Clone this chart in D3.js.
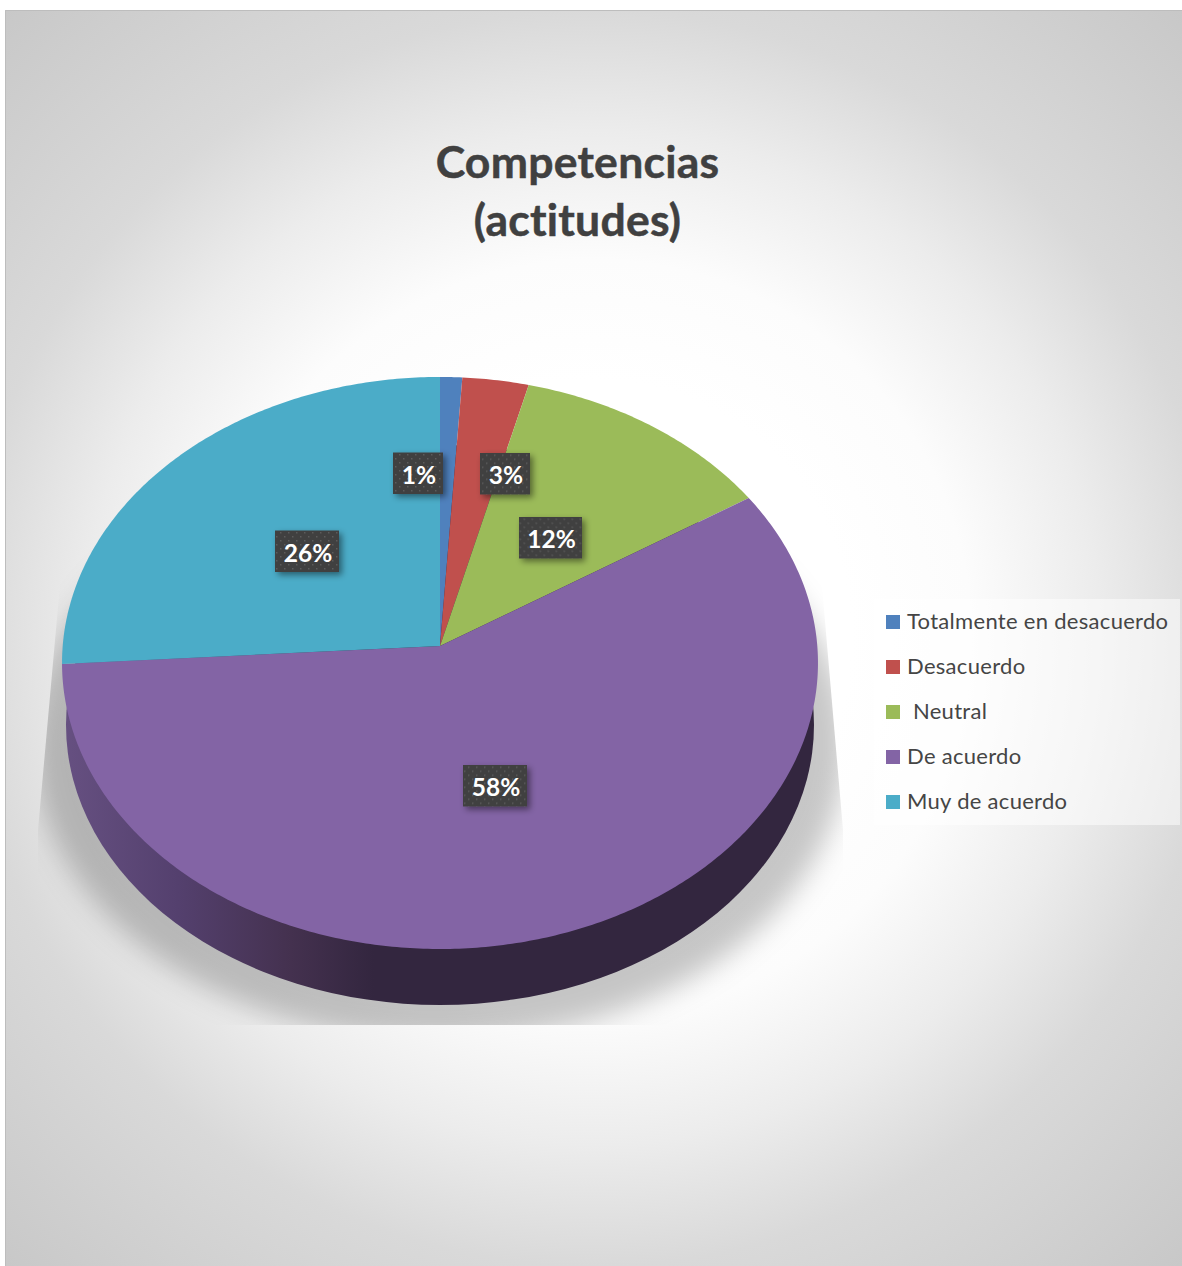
<!DOCTYPE html>
<html lang="es">
<head>
<meta charset="utf-8">
<title>Competencias (actitudes)</title>
<script src="https://cdnjs.cloudflare.com/ajax/libs/d3/7.8.5/d3.min.js"></script>
<style>
  html, body { margin: 0; padding: 0; background: #fff; }
  svg { display: block; font-family: Lato, "Open Sans", sans-serif; font-variant-ligatures: none; }
</style>
</head>
<body>
<div id="chart"></div>
<script>
// Survey answers and their shares, in percent
const categories = ["Totalmente en desacuerdo", "Desacuerdo", " Neutral", "De acuerdo", "Muy de acuerdo"];
const shares = [1, 3, 12, 58, 26];
const palette = ["#4f81bd", "#c0504d", "#9bbb59", "#8364a5", "#4bacc8"];
const titleLines = ["Competencias", "(actitudes)"];

const width = 1182, height = 1266;
const frame = { x: 5, y: 10, w: 1177, h: 1256 };

// Tilted disc: apex of the slices, rim radii and perspective strength
const apex = { x: 440, y: 646 };
const disc = { rx: 377.3, ry: 285, k: 0.0594 };
// Lower face of the extruded disc
const base = { cx: 440, cy: 725, rx: 374, ry: 280 };

// Data label boxes: centre and width of each box
const labelBoxes = [
  { cx: 418, cy: 473, w: 50 },
  { cx: 505, cy: 473.5, w: 50 },
  { cx: 550.5, cy: 537.5, w: 63 },
  { cx: 495, cy: 785.5, w: 64 },
  { cx: 307, cy: 551, w: 64 }
];

const svg = d3.select("#chart").append("svg")
  .attr("width", width).attr("height", height)
  .attr("viewBox", [0, 0, width, height]);
const defs = svg.append("defs");

// Backdrop: white centre falling off to grey corners
const bgGrad = defs.append("radialGradient").attr("id", "backdrop")
  .attr("gradientUnits", "userSpaceOnUse")
  .attr("cx", 593).attr("cy", 638).attr("r", 860);
[[0.3, "#ffffff"], [0.44, "#fcfcfc"], [0.59, "#ececec"], [0.73, "#d9d9d9"], [1, "#c8c8c8"]]
  .forEach(([o, c]) => bgGrad.append("stop").attr("offset", o).attr("stop-color", c));

// Wall of the disc: lit on the left, dark from the middle onwards
const wallGrad = defs.append("linearGradient").attr("id", "wall")
  .attr("gradientUnits", "userSpaceOnUse")
  .attr("x1", 65).attr("x2", 818).attr("y1", 0).attr("y2", 0);
[[0, "#665081"], [0.15, "#54406e"], [0.3, "#44314f"], [0.41, "#33263f"], [1, "#33263f"]]
  .forEach(([o, c]) => wallGrad.append("stop").attr("offset", o).attr("stop-color", c));

defs.append("filter").attr("id", "softShadow")
  .attr("x", -0.1).attr("y", -0.1).attr("width", 1.2).attr("height", 1.2)
  .append("feGaussianBlur").attr("stdDeviation", 14);

// The cast shadow is cut off by straight slanted sides and a flat floor
defs.append("clipPath").attr("id", "shadowClip").append("polygon")
  .attr("points", "64,540 38,830 38,1025 843,1025 843,830 818,540");

const tagShadow = defs.append("filter").attr("id", "tagShadow")
  .attr("x", -0.2).attr("y", -0.2).attr("width", 1.5).attr("height", 1.6);
tagShadow.append("feDropShadow")
  .attr("dx", 3).attr("dy", 3).attr("stdDeviation", 3)
  .attr("flood-color", "#000").attr("flood-opacity", 0.45);

// Dotted texture of the label boxes
const dots = defs.append("pattern").attr("id", "tagDots")
  .attr("patternUnits", "userSpaceOnUse").attr("width", 8).attr("height", 8);
dots.append("rect").attr("width", 8).attr("height", 8).attr("fill", "#3f3f3f");
[[1, 1], [5, 5]].forEach(([x, y]) =>
  dots.append("rect").attr("x", x).attr("y", y).attr("width", 1.5).attr("height", 1.5).attr("fill", "#5c5c5c"));

svg.append("rect")
  .attr("x", frame.x).attr("y", frame.y).attr("width", frame.w).attr("height", frame.h)
  .attr("fill", "url(#backdrop)");
svg.append("path")
  .attr("d", `M${frame.x + 0.5},${height}V${frame.y + 0.5}H${width}`)
  .attr("fill", "none").attr("stroke", "#bdbdbd");

// Title
svg.append("g").selectAll("text").data(titleLines).join("text")
  .attr("x", 577.5)
  .attr("y", (d, i) => 178 + i * 58)
  .attr("text-anchor", "middle")
  .attr("font-weight", 700)
  .attr("font-size", 44.5)
  .attr("letter-spacing", 0.25)
  .attr("fill", "#404040")
  .attr("stroke", "#404040").attr("stroke-width", 0.5)
  .text(d => d);

// Projects an angle (clockwise from twelve o'clock) and a radius fraction onto the tilted disc
function project(angle, t) {
  const u = Math.sin(angle) * t, v = -Math.cos(angle) * t;
  const w = 1 - disc.k * v;
  return [apex.x + disc.rx * u / w, apex.y + disc.ry * v / w];
}

const pieLayout = d3.pie().sort(null).value(d => d)(shares);
const color = d3.scaleOrdinal().domain(categories).range(palette);
const outline = d3.line();

// Cast shadow under the disc
svg.append("g").attr("clip-path", "url(#shadowClip)")
  .append("ellipse")
  .attr("cx", 440).attr("cy", 745).attr("rx", 406).attr("ry", 296)
  .attr("fill", "#000").attr("fill-opacity", 0.22)
  .attr("filter", "url(#softShadow)");

// Wall of the disc
svg.append("ellipse")
  .attr("cx", base.cx).attr("cy", base.cy).attr("rx", base.rx).attr("ry", base.ry)
  .attr("fill", "url(#wall)");

// Top face slices
svg.append("g").selectAll("path").data(pieLayout).join("path")
  .attr("fill", (d, i) => color(categories[i]))
  .attr("d", d => {
    const steps = Math.max(8, Math.ceil((d.endAngle - d.startAngle) * 90));
    const rim = d3.range(steps + 1).map(i =>
      project(d.startAngle + (d.endAngle - d.startAngle) * i / steps, 1));
    return outline([[apex.x, apex.y], ...rim]) + "Z";
  });

// Data labels
const tags = svg.append("g").selectAll("g").data(shares).join("g")
  .attr("transform", (d, i) => `translate(${labelBoxes[i].cx},${labelBoxes[i].cy})`);
tags.append("rect")
  .attr("x", (d, i) => -labelBoxes[i].w / 2).attr("y", -20.5)
  .attr("width", (d, i) => labelBoxes[i].w).attr("height", 41.5)
  .attr("fill", "url(#tagDots)").attr("filter", "url(#tagShadow)");
tags.append("text")
  .attr("text-anchor", "middle").attr("x", 1).attr("y", 10.5)
  .attr("font-weight", 700).attr("font-size", 24.5).attr("fill", "#fff")
  .text(d => `${d}%`);

// Legend
const legendY = d3.scalePoint().domain(categories).range([622, 802]);
svg.append("rect")
  .attr("x", 874).attr("y", 599).attr("width", 306).attr("height", 226)
  .attr("fill", "#fff").attr("fill-opacity", 0.5);
const legendRows = svg.append("g").selectAll("g").data(categories).join("g")
  .attr("transform", d => `translate(886,${legendY(d)})`);
legendRows.append("rect")
  .attr("y", -7).attr("width", 14).attr("height", 14)
  .attr("fill", d => color(d));
legendRows.append("text")
  .attr("x", 21).attr("y", 6.5)
  .attr("xml:space", "preserve")
  .style("white-space", "pre")
  .attr("font-size", 22).attr("letter-spacing", 0.3).attr("fill", "#454545")
  .text(d => d);
</script>
</body>
</html>
